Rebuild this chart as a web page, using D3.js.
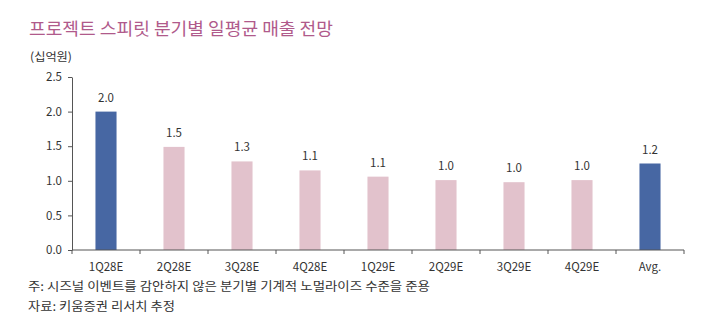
<!DOCTYPE html>
<html>
<head>
<meta charset="utf-8">
<script src="https://cdn.jsdelivr.net/npm/d3@7"></script>
<style>
	body { margin: 0; background: #fff; }
	text { font-family: "Noto Sans CJK KR", "Noto Sans", sans-serif; }
</style>
</head>
<body>
<script>
var categories = ["1Q28E", "2Q28E", "3Q28E", "4Q28E", "1Q29E", "2Q29E", "3Q29E", "4Q29E", "Avg."];
var values = [2.0, 1.49, 1.28, 1.15, 1.06, 1.01, 0.98, 1.01, 1.25];
var labels = ["2.0", "1.5", "1.3", "1.1", "1.1", "1.0", "1.0", "1.0", "1.2"];
var highlight = ["1Q28E", "Avg."];
var yTicks = [0, 0.5, 1.0, 1.5, 2.0, 2.5];

var svg = d3.select("body").append("svg").attr("width", 704).attr("height", 320);

//	title and unit
svg.append("text").attr("x", 29).attr("y", 35).text("프로젝트 스피릿 분기별 일평균 매출 전망")
	.attr("textLength", 304).attr("lengthAdjust", "spacingAndGlyphs")
	.attr("style", "font-size:17.5px; fill:#b05a8b");
svg.append("text").attr("x", 30).attr("y", 61).text("(십억원)")
	.attr("textLength", 42).attr("lengthAdjust", "spacingAndGlyphs")
	.attr("style", "font-size:11.5px; fill:#333");

var x = d3.scaleBand().domain(categories).range([72, 684]).paddingInner(0.69).paddingOuter(0.345);
var y = d3.scaleLinear().domain([0, 2.5]).range([250, 77]);

//	y axis
var yAxis = svg.append("g").attr("transform", "translate(72,0)")
	.call(d3.axisLeft(y).tickValues(yTicks).tickFormat(d3.format(".1f")).tickSize(4).tickSizeOuter(0));
yAxis.selectAll("text").attr("style", "font-size:11.5px; fill:#333").attr("x", -10);

//	bars
svg.selectAll("rect.bar").data(categories).enter().append("rect")
	.attr("class", "bar")
	.attr("x", function(d){ return x(d); })
	.attr("width", x.bandwidth())
	.attr("y", function(d, i){ return y(values[i]); })
	.attr("height", function(d, i){ return y(0) - y(values[i]); })
	.attr("fill", function(d){ return highlight.indexOf(d) >= 0 ? "#4767a3" : "#e2c2cc"; });

//	value labels
svg.selectAll("text.val").data(categories).enter().append("text")
	.attr("class", "val")
	.attr("x", function(d){ return x(d) + x.bandwidth()/2; })
	.attr("y", function(d, i){ return y(values[i]) - 10; })
	.attr("text-anchor", "middle")
	.attr("style", "font-size:11.5px; fill:#333")
	.text(function(d, i){ return labels[i]; });

//	x axis, ticks between bands
var xAxis = svg.append("g").attr("transform", "translate(0,250)");
xAxis.append("line").attr("x1", 72).attr("x2", 684).attr("y1", 0).attr("y2", 0).attr("stroke", "#555");
var bounds = categories.map(function(d){ return x(d) - x.step()*x.paddingInner()/2; }).concat([684]);
xAxis.selectAll("line.tk").data(bounds).enter().append("line")
	.attr("class", "tk")
	.attr("x1", function(d){ return d; }).attr("x2", function(d){ return d; })
	.attr("y1", 0).attr("y2", 4).attr("stroke", "#555");
xAxis.selectAll("text").data(categories).enter().append("text")
	.attr("x", function(d){ return x(d) + x.bandwidth()/2; })
	.attr("y", 21)
	.attr("text-anchor", "middle")
	.attr("style", "font-size:11.5px; fill:#333")
	.text(function(d){ return d; });

yAxis.select(".domain").attr("stroke", "#555");
yAxis.selectAll(".tick line").attr("stroke", "#555");

//	notes
svg.append("text").attr("x", 28).attr("y", 291).text("주: 시즈널 이벤트를 감안하지 않은 분기별 기계적 노멀라이즈 수준을 준용")
	.attr("textLength", 402).attr("lengthAdjust", "spacingAndGlyphs")
	.attr("style", "font-size:12px; fill:#333");
svg.append("text").attr("x", 28).attr("y", 311).text("자료: 키움증권 리서치 추정")
	.attr("textLength", 147).attr("lengthAdjust", "spacingAndGlyphs")
	.attr("style", "font-size:12px; fill:#333");
</script>
</body>
</html>
